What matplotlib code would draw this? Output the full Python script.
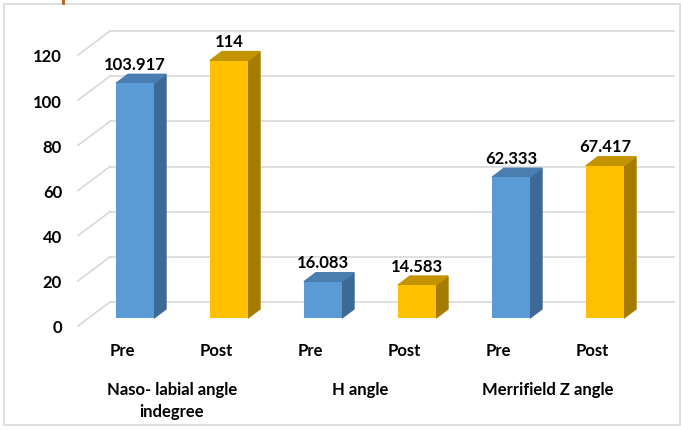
import numpy as np
import matplotlib.pyplot as plt
from matplotlib.patches import Polygon, Rectangle
from matplotlib.lines import Line2D

plt.rcParams['font.family'] = ['Lato', 'DejaVu Sans']
plt.rcParams['font.weight'] = 'bold'

groups = ["Naso- labial angle\nindegree", "H angle", "Merrifield Z angle"]
phases = ["Pre", "Post"]
values = [103.917, 114, 16.083, 14.583, 62.333, 67.417]
value_labels = ["103.917", "114", "16.083", "14.583", "62.333", "67.417"]
yticks = [0, 20, 40, 60, 80, 100, 120]

front = {"Pre": "#5B9BD5", "Post": "#FFC000"}
side = {"Pre": "#3C6A94", "Post": "#A57C00"}
top = {"Pre": "#4A7DB0", "Post": "#C39300"}

W, H = 681, 431
fig = plt.figure(figsize=(W / 100, H / 100), dpi=100)
ax = fig.add_axes([78 / W, (H - 327) / H, 564 / W, 271 / H])
ax.set_xlim(-0.5, 5.5)
ax.set_ylim(0, 120)

# pixel -> data unit helpers
sx = 564 / 6
sy = 271 / 120


def px(dx, dy):
    return dx / sx, dy / sy


x = np.arange(len(values))
cols = [phases[i % 2] for i in x]

# back wall gridlines + left diagonals
gx, gy = px(32, 24)
for t in yticks:
    ax.plot([-0.5 + gx, 5.5 + gx], [t + gy, t + gy], color="#D9D9D9", lw=1.2,
            clip_on=False, zorder=0)
    ax.plot([-0.5, -0.5 + gx], [t, t + gy], color="#D9D9D9", lw=1.2,
            clip_on=False, zorder=0)

# 3d-ish bars
w = 38 / sx
bx, by = px(10, 8)
dx, dy = px(12, 9)
ax.bar(x + bx, values, width=w, bottom=by, color=[front[c] for c in cols],
       zorder=3, clip_on=False)
for xi, v, c, lab in zip(x, values, cols, value_labels):
    xl = xi + bx - w / 2
    xr = xi + bx + w / 2
    yt = by + v
    ax.add_patch(Polygon([(xr, by), (xr, yt), (xr + dx, yt + dy), (xr + dx, by + dy)],
                         closed=True, color=side[c], zorder=2, clip_on=False))
    ax.add_patch(Polygon([(xl, yt), (xr, yt), (xr + dx, yt + dy), (xl + dx, yt + dy)],
                         closed=True, color=top[c], zorder=2, clip_on=False))
    ax.annotate(lab, (xi + bx, yt), xytext=(0, 14), textcoords="offset points",
                ha="center", va="center", fontsize=12, fontweight="bold",
                color="black", annotation_clip=False)

ax.set_yticks(yticks)
ax.set_xticks(x - 3 / sx)
ax.set_xticklabels([phases[i % 2] for i in x])
ax.tick_params(axis="y", length=0, pad=11.5, labelsize=12)
ax.tick_params(axis="x", length=0, pad=11.5, labelsize=12)
for s in ax.spines.values():
    s.set_visible(False)
ax.patch.set_visible(False)

for gi, g in enumerate(groups):
    ax.text(gi * 2 + 0.5, -55 / 271, g, transform=ax.get_xaxis_transform(),
            ha="center", va="top", fontsize=12, fontweight="bold",
            linespacing=1.45)

fig.patches.append(Rectangle((4 / W, 5 / H), 676 / W, 421 / H, transform=fig.transFigure,
                             fill=False, edgecolor="#D9D9D9", lw=1.2))
# bit of a cropped title above the chart
fig.lines.append(Line2D([63 / W, 63 / W], [1, 1 - 4 / H], transform=fig.transFigure,
                        color="#C55A11", lw=2))

fig.savefig("out.png", dpi=100)
